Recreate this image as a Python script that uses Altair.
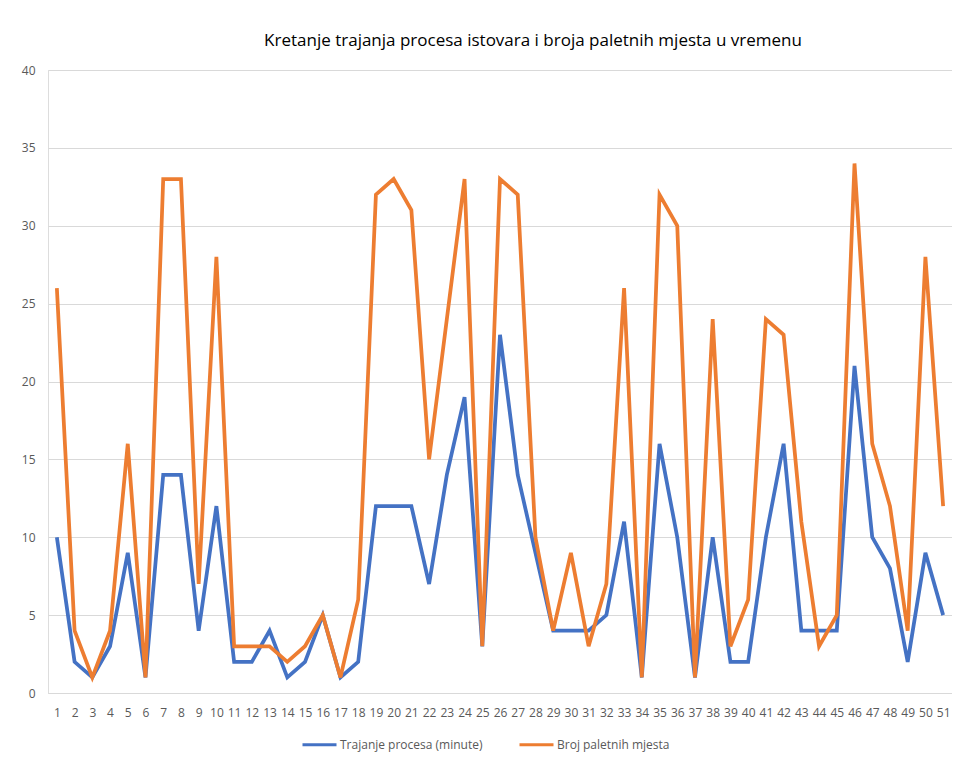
import altair as alt
import pandas as pd

periods = list(range(1, 52))
trajanje = [10, 2, 1, 3, 9, 1, 14, 14, 4, 12,
            2, 2, 4, 1, 2, 5, 1, 2, 12, 12,
            12, 7, 14, 19, 3, 23, 14, 9, 4, 4,
            4, 5, 11, 1, 16, 10, 1, 10, 2, 2,
            10, 16, 4, 4, 4, 21, 10, 8, 2, 9, 5]
broj = [26, 4, 1, 4, 16, 1, 33, 33, 7, 28,
        3, 3, 3, 2, 3, 5, 1, 6, 32, 33,
        31, 15, 24, 33, 3, 33, 32, 10, 4, 9,
        3, 7, 26, 1, 32, 30, 1, 24, 3, 6,
        24, 23, 11, 3, 5, 34, 16, 12, 4, 28, 12]

series_names = ["Trajanje procesa (minute)", "Broj paletnih mjesta"]
series_colors = ["#4472C4", "#ED7D31"]

df = pd.DataFrame({
    "t": periods * 2,
    "v": trajanje + broj,
    "s": [series_names[0]] * len(periods) + [series_names[1]] * len(periods),
})

FONT = "Open Sans"

x_enc = alt.X("t:O", title=None,
              scale=alt.Scale(paddingInner=0, paddingOuter=0.5),
              axis=alt.Axis(labelAngle=0, labelFont=FONT, labelFontSize=12,
                            labelColor="#595959", labelPadding=14, ticks=False,
                            domainColor="#D9D9D9", domainWidth=1, grid=False))
y_enc = alt.Y("v:Q", title=None,
              scale=alt.Scale(domain=[0, 40], nice=False),
              axis=alt.Axis(values=[0, 5, 10, 15, 20, 25, 30, 35, 40],
                            labelFont=FONT, labelFontSize=12, labelColor="#595959",
                            labelPadding=13, ticks=False, domain=False,
                            gridColor="#D9D9D9", gridWidth=1))
color_enc = alt.Color("s:N", title=None,
                      scale=alt.Scale(domain=series_names, range=series_colors),
                      legend=alt.Legend(orient="none", legendX=253, legendY=656,
                                        direction="horizontal", columns=2,
                                        symbolType="stroke", symbolSize=1156,
                                        symbolStrokeWidth=3, labelFont=FONT,
                                        labelFontSize=12, labelColor="#595959",
                                        columnPadding=30, labelOffset=2, padding=0))

base = alt.Chart(df)
blue = base.transform_filter(alt.datum.s == series_names[0]).mark_line(strokeWidth=3.75).encode(
    x=x_enc, y=y_enc, color=color_enc)
orange = base.transform_filter(alt.datum.s == series_names[1]).mark_line(strokeWidth=3.75).encode(
    x=x_enc, y=y_enc, color=color_enc)

chart = alt.layer(blue, orange).properties(
    width=904, height=623,
    title=alt.TitleParams("Kretanje trajanja procesa istovara i broja paletnih mjesta u vremenu",
                          font=FONT, fontSize=17, fontWeight="normal", color="#000000",
                          anchor="middle", dx=33, offset=14, frame="group"),
    autosize=alt.AutoSizeParams(type="none"),
    padding={"left": 40, "top": 62, "right": 0, "bottom": 64},
).configure_view(stroke=None).configure(background="white")

chart.save("out.html", embed_options={"renderer": "svg", "actions": False})
